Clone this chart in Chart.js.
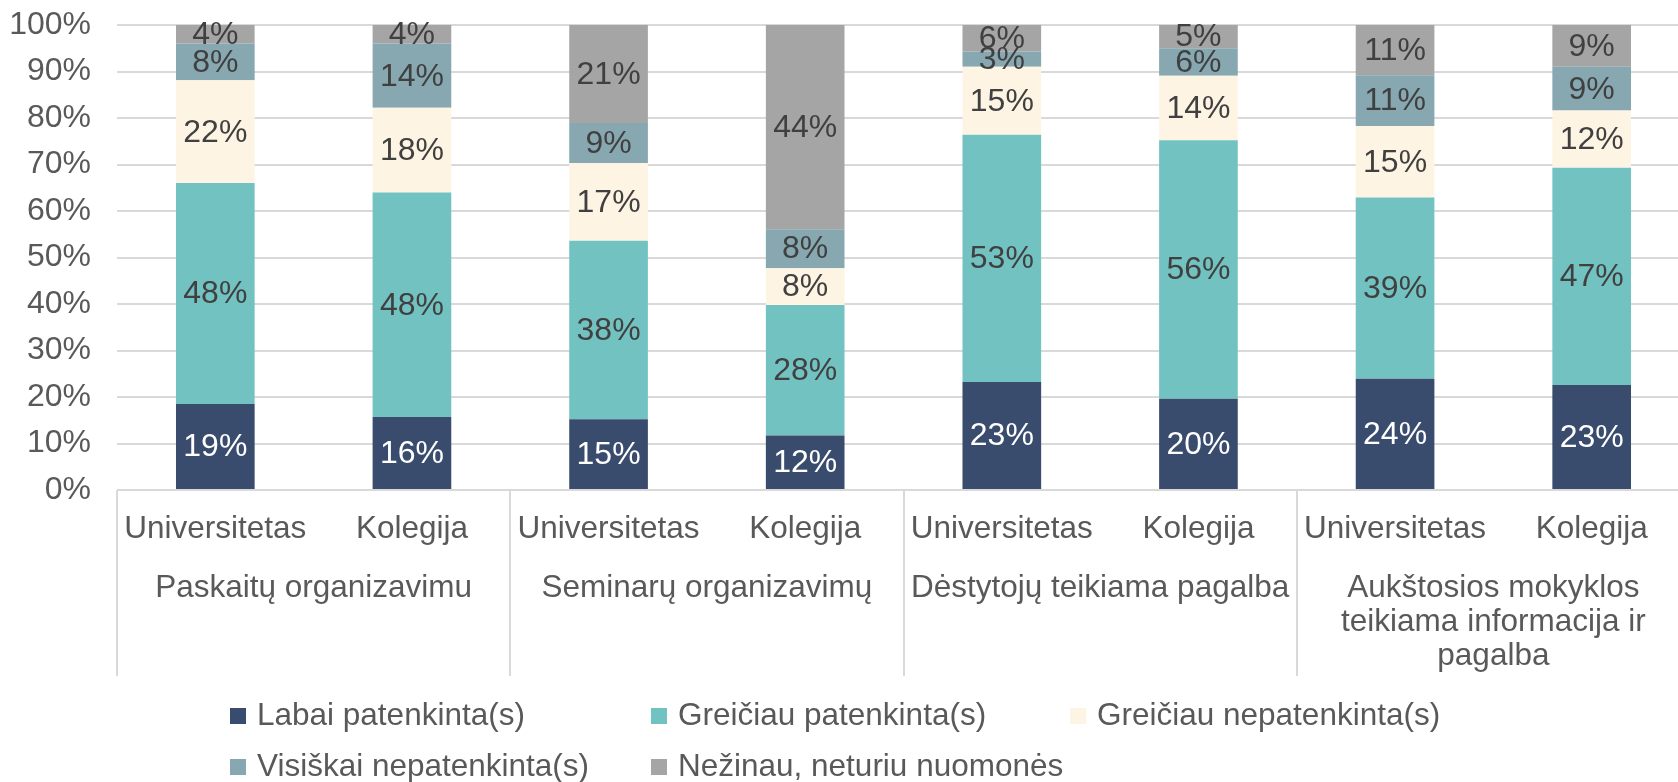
<!DOCTYPE html>
<html>
<head>
<meta charset="utf-8">
<script src="https://cdn.jsdelivr.net/npm/chart.js@4.4.0/dist/chart.umd.min.js"></script>
<style>
  html, body { margin: 0; padding: 0; background: #fff; overflow: hidden; }
  #wrap { width: 1678px; height: 782px; overflow: hidden; }
</style>
</head>
<body>
<div id="wrap"><canvas id="chart" width="1700" height="782"></canvas></div>
<script>
// Data (percent of answers)
const subLabels = ['Universitetas', 'Kolegija', 'Universitetas', 'Kolegija', 'Universitetas', 'Kolegija', 'Universitetas', 'Kolegija'];
const groupLabels = [
    ['Paskaitų organizavimu'],
    ['Seminarų organizavimų'],
    ['Dėstytojų teikiama pagalba'],
    ['Aukštosios mokyklos', 'teikiama informacija ir', 'pagalba']
];
const seriesNames = ['Labai patenkinta(s)', 'Greičiau patenkinta(s)', 'Greičiau nepatenkinta(s)', 'Visiškai nepatenkinta(s)', 'Nežinau, neturiu nuomonės'];
const labaiPatenkinta      = [18.5, 15.7, 15.2, 11.7, 23.2, 19.6, 23.9, 22.6];
const greiciauPatenkinta   = [47.5, 48.3, 38.4, 28.1, 53.2, 55.6, 39.0, 46.7];
const greiciauNepatenkinta = [22.1, 18.2, 16.7,  7.9, 14.6, 13.9, 15.4, 12.3];
const visiskaiNepatenkinta = [ 7.9, 13.8,  8.6,  8.4,  3.3,  5.9, 10.9,  9.4];
const nezinau              = [ 4.0,  4.0, 21.1, 43.9,  5.7,  5.0, 10.8,  9.0];
const seriesColors = ['#3A4C6E', '#73C2C2', '#FDF4E3', '#87A8B1', '#A5A5A5'];
const labelColors  = ['#FFFFFF', '#404040', '#404040', '#404040', '#404040'];

const FONT = "'Liberation Sans', Arial, sans-serif";
const TEXT = '#595959';
const LINE = '#D9D9D9';

// value labels centred in each segment
const segmentLabels = {
    id: 'segmentLabels',
    afterDatasetsDraw(chart) {
        const ctx = chart.ctx;
        ctx.save();
        ctx.font = '32px ' + FONT;
        ctx.textAlign = 'center';
        ctx.textBaseline = 'middle';
        chart.data.datasets.forEach((ds, i) => {
            const meta = chart.getDatasetMeta(i);
            meta.data.forEach((bar, j) => {
                ctx.fillStyle = labelColors[i];
                ctx.fillText(Math.round(ds.data[j]) + '%', bar.x, (bar.y + bar.base) / 2 + 1);
            });
        });
        ctx.restore();
    }
};

// group labels, separators and legend below the axis
const groupAxis = {
    id: 'groupAxis',
    afterDraw(chart) {
        const ctx = chart.ctx;
        const xs = chart.scales.x;
        const slot = xs.getPixelForValue(1) - xs.getPixelForValue(0);
        const bottom = chart.chartArea.bottom;
        ctx.save();
        ctx.strokeStyle = LINE;
        ctx.lineWidth = 2;
        for (let k = 0; k <= subLabels.length; k += 2) {
            const x = Math.round(xs.getPixelForValue(0) - slot / 2 + k * slot);
            ctx.beginPath();
            ctx.moveTo(x, bottom);
            ctx.lineTo(x, 676);
            ctx.stroke();
        }
        ctx.font = '31.5px ' + FONT;
        ctx.fillStyle = TEXT;
        ctx.textAlign = 'center';
        ctx.textBaseline = 'middle';
        groupLabels.forEach((lines, g) => {
            const cx = (xs.getPixelForValue(2 * g) + xs.getPixelForValue(2 * g + 1)) / 2;
            lines.forEach((t, l) => ctx.fillText(t, cx, 588 + l * 34.3));
        });

        // legend, Excel style grid
        const colX = [230, 651, 1070];
        const rowY = [716, 767];
        ctx.textAlign = 'left';
        chart.data.datasets.forEach((ds, i) => {
            const x = colX[i % 3];
            const y = rowY[Math.floor(i / 3)];
            ctx.fillStyle = ds.backgroundColor;
            ctx.fillRect(x, y - 8, 16, 16);
            ctx.fillStyle = TEXT;
            ctx.fillText(ds.label, x + 27, y);
        });
        ctx.restore();
    }
};

const seriesData = [labaiPatenkinta, greiciauPatenkinta, greiciauNepatenkinta, visiskaiNepatenkinta, nezinau];

new Chart(document.getElementById('chart'), {
    type: 'bar',
    data: {
        labels: subLabels,
        datasets: seriesData.map((d, i) => ({
            label: seriesNames[i],
            data: d,
            backgroundColor: seriesColors[i],
            barPercentage: 0.4,
            categoryPercentage: 1.0
        }))
    },
    options: {
        responsive: false,
        animation: false,
        layout: { padding: { top: 25, left: 10, right: 10, bottom: 222 } },
        plugins: {
            legend: { display: false },
            tooltip: { enabled: false }
        },
        scales: {
            x: {
                stacked: true,
                grid: { display: false },
                border: { display: false },
                afterFit(scale) { scale.height = 70; },
                ticks: { color: TEXT, font: { family: FONT, size: 31.5 }, padding: 12, maxRotation: 0, autoSkip: false }
            },
            y: {
                stacked: true,
                min: 0,
                max: 100,
                afterFit(scale) { scale.width = 107; },
                grid: { color: LINE, lineWidth: 2, drawTicks: true, tickLength: 26, tickColor: 'rgba(0,0,0,0)' },
                border: { display: false },
                ticks: {
                    stepSize: 10,
                    padding: 0,
                    color: TEXT,
                    font: { family: FONT, size: 32 },
                    callback: v => v + '%'
                }
            }
        }
    },
    plugins: [segmentLabels, groupAxis]
});
</script>
</body>
</html>
